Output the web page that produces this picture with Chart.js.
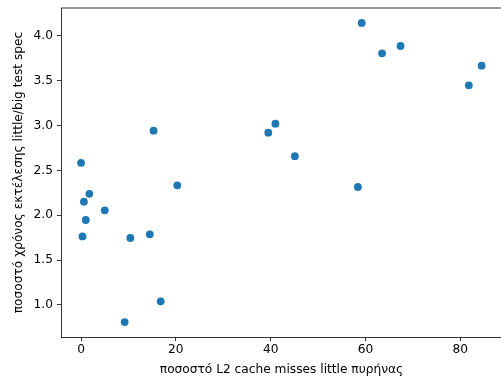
<!DOCTYPE html>
<html>
<head>
<meta charset="utf-8">
<script src="https://cdn.jsdelivr.net/npm/chart.js@4/dist/chart.umd.min.js"></script>
<style>
html,body{margin:0;padding:0;background:#fff;overflow:hidden;width:501px;height:380px;}
#wrap{position:absolute;left:0;top:0;width:520px;height:380px;}
</style>
</head>
<body>
<div id="wrap"><canvas id="c" width="520" height="380"></canvas></div>
<script>
const l2MissPercent = [0.0, 0.3, 0.6, 1.0, 1.75, 5.0, 9.2, 10.4, 14.5, 15.3, 16.8, 20.3, 39.5, 41.0, 45.1, 58.4, 59.2, 63.5, 67.4, 81.8, 84.5];
const timeRatio    = [2.585, 1.765, 2.152, 1.948, 2.24, 2.056, 0.81, 1.747, 1.788, 2.944, 1.041, 2.335, 2.922, 3.022, 2.66, 2.316, 4.145, 3.807, 3.888, 3.45, 3.669];
const xTicks = [0, 20, 40, 60, 80];
const yTicks = [1.0, 1.5, 2.0, 2.5, 3.0, 3.5, 4.0];
const xTitle = 'ποσοστό L2 cache misses little πυρήνας';
const yTitle = 'ποσοστό χρόνος εκτέλεσης little/big test spec';

const points = l2MissPercent.map((x, i) => ({x: x, y: timeRatio[i]}));
const FONT = {family: 'DejaVu Sans', size: 12.2};

const frame = {
  id: 'frame',
  afterDraw(chart) {
    const a = chart.chartArea, ctx = chart.ctx;
    ctx.save();
    ctx.strokeStyle = '#000';
    ctx.lineWidth = 0.8;
    ctx.beginPath();
    ctx.moveTo(a.left, a.top);
    ctx.lineTo(a.right, a.top);
    ctx.moveTo(a.right, a.top);
    ctx.lineTo(a.right, a.bottom);
    ctx.stroke();
    ctx.restore();
  }
};

new Chart(document.getElementById('c'), {
  type: 'scatter',
  data: {
    datasets: [{
      data: points,
      backgroundColor: '#1f77b4',
      borderWidth: 0,
      pointRadius: 3.9,
      pointHoverRadius: 3.9
    }]
  },
  options: {
    responsive: false,
    animation: false,
    layout: {padding: {left: 0, top: 8, right: 18, bottom: 0}},
    plugins: {legend: {display: false}, tooltip: {enabled: false}},
    scales: {
      x: {
        type: 'linear',
        min: -4.23, max: 88.8,
        afterBuildTicks(s) { s.ticks = xTicks.map(v => ({value: v})); },
        afterFit(s) { s.height = 43; s.paddingLeft = 0; s.paddingRight = 0; },
        ticks: {font: FONT, color: '#000', padding: 2, maxRotation: 0,
                callback: v => String(v)},
        grid: {drawOnChartArea: false, drawTicks: true, tickLength: 4, color: '#000', lineWidth: 0.8},
        border: {display: true, color: '#000', width: 0.8},
        title: {display: true, text: xTitle, font: FONT, color: '#000', padding: {top: 0, bottom: 3}}
      },
      y: {
        type: 'linear',
        min: 0.643, max: 4.312,
        afterBuildTicks(s) { s.ticks = yTicks.map(v => ({value: v})); },
        afterFit(s) { s.width = 61; s.paddingTop = 0; s.paddingBottom = 0; },
        ticks: {font: FONT, color: '#000', padding: 4, callback: v => Number(v).toFixed(1)},
        grid: {drawOnChartArea: false, drawTicks: true, tickLength: 4, color: '#000', lineWidth: 0.8},
        border: {display: true, color: '#000', width: 0.8},
        title: {display: true, text: yTitle, font: FONT, color: '#000', padding: {top: 12, bottom: 0}}
      }
    }
  },
  plugins: [frame]
});
</script>
</body>
</html>
